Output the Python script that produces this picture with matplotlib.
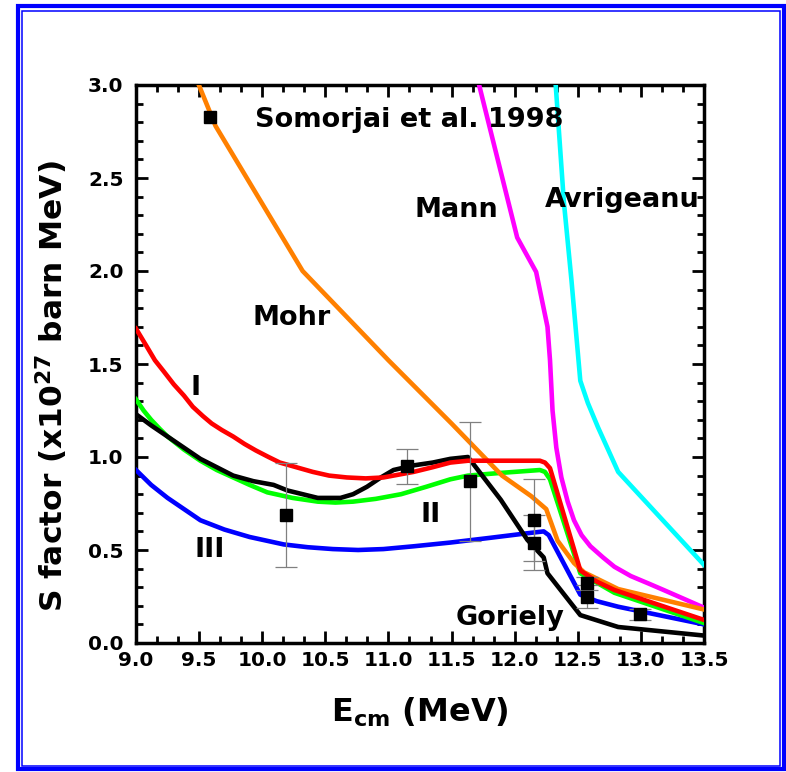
import numpy as np
import matplotlib
matplotlib.use("Agg")
import matplotlib.pyplot as plt
from matplotlib.patches import Rectangle
from matplotlib.ticker import MultipleLocator, AutoMinorLocator

plt.rcParams["font.family"] = "DejaVu Sans"
plt.rcParams["font.weight"] = "bold"
plt.rcParams["mathtext.fontset"] = "dejavusans"

# model curves, E_cm (MeV) vs S factor (1e27 barn MeV)
mohr_e = [9.48, 9.63, 10.32, 11.0, 11.5, 11.9, 12.13, 12.25, 12.34, 12.47, 12.55, 12.82, 13.5]
mohr_s = [3.03, 2.78, 2.0, 1.52, 1.18, 0.9, 0.79, 0.72, 0.55, 0.43, 0.38, 0.29, 0.18]

mann_e = [11.70, 12.02, 12.17, 12.26, 12.28, 12.30, 12.33, 12.37, 12.42, 12.47, 12.53, 12.60,
          12.70, 12.79, 12.92, 13.06, 13.18, 13.5]
mann_s = [3.05, 2.18, 1.995, 1.70, 1.52, 1.25, 1.05, 0.89, 0.76, 0.66, 0.58, 0.52,
          0.46, 0.41, 0.36, 0.32, 0.285, 0.19]

avr_e = [12.32, 12.39, 12.45, 12.52, 12.58, 12.66, 12.74, 12.82, 13.5]
avr_s = [3.05, 2.37, 1.95, 1.41, 1.29, 1.16, 1.04, 0.92, 0.42]

red_e = [9.0, 9.08, 9.15, 9.22, 9.3, 9.38, 9.45, 9.53, 9.6, 9.68, 9.77, 9.86, 9.95, 10.05,
         10.14, 10.27, 10.4, 10.53, 10.67, 10.82, 10.96, 11.08, 11.2, 11.35, 11.49, 11.63,
         12.2, 12.24, 12.28, 12.52, 12.65, 12.79, 13.5]
red_s = [1.69, 1.60, 1.52, 1.46, 1.39, 1.33, 1.27, 1.22, 1.18, 1.145, 1.11, 1.07, 1.035, 1.0,
         0.97, 0.945, 0.92, 0.90, 0.89, 0.885, 0.89, 0.905, 0.92, 0.945, 0.97, 0.98,
         0.98, 0.97, 0.94, 0.39, 0.33, 0.285, 0.124]

green_e = [9.0, 9.06, 9.12, 9.19, 9.25, 9.38, 9.51, 9.64, 9.77, 9.9, 10.04, 10.24, 10.44,
           10.58, 10.72, 10.9, 11.1, 11.3, 11.49, 11.63, 11.9, 12.2, 12.24, 12.28, 12.52,
           12.79, 13.5]
green_s = [1.31, 1.25, 1.20, 1.15, 1.11, 1.04, 0.98, 0.93, 0.89, 0.85, 0.81, 0.78, 0.76,
           0.755, 0.76, 0.775, 0.80, 0.84, 0.88, 0.90, 0.915, 0.93, 0.92, 0.88, 0.375,
           0.27, 0.107]

blue_e = [9.0, 9.12, 9.25, 9.38, 9.51, 9.7, 9.9, 10.17, 10.36, 10.56, 10.76, 10.96, 11.2,
          11.49, 11.8, 12.1, 12.23, 12.27, 12.52, 12.65, 12.82, 13.5]
blue_s = [0.93, 0.85, 0.78, 0.72, 0.66, 0.61, 0.57, 0.53, 0.515, 0.505, 0.50, 0.505, 0.52,
          0.54, 0.565, 0.59, 0.60, 0.58, 0.26, 0.225, 0.195, 0.10]

gor_e = [9.0, 9.12, 9.25, 9.38, 9.51, 9.64, 9.77, 9.93, 10.09, 10.2, 10.32, 10.44, 10.62,
         10.72, 10.83, 10.94, 11.04, 11.2, 11.35, 11.49, 11.63, 11.89, 12.10, 12.23, 12.26,
         12.52, 12.82, 13.5]
gor_s = [1.23, 1.17, 1.11, 1.05, 0.99, 0.945, 0.90, 0.87, 0.85, 0.82, 0.80, 0.78, 0.78,
         0.80, 0.84, 0.89, 0.93, 0.955, 0.97, 0.99, 1.0, 0.77, 0.555, 0.46, 0.375,
         0.15, 0.086, 0.04]

# Somorjai et al. 1998 data
exp_e = [9.59, 10.19, 11.15, 11.65, 12.15, 12.15, 12.57, 12.57, 12.99]
exp_s = [2.83, 0.69, 0.95, 0.87, 0.66, 0.54, 0.32, 0.25, 0.155]
exp_err = [0.0, 0.28, 0.095, 0.32, 0.22, 0.15, 0.035, 0.06, 0.03]

fig = plt.figure(figsize=(7.86, 7.72), dpi=100)
ax = fig.add_axes([136 / 786, 1 - 643 / 772, 568 / 786, 558 / 772])

lw = 3.3
ax.plot(mann_e, mann_s, color="#FF00FF", lw=lw, zorder=3)
ax.plot(avr_e, avr_s, color="#00FFFF", lw=lw, zorder=3)
ax.plot(blue_e, blue_s, color="#0000FF", lw=lw, zorder=3)
ax.plot(green_e, green_s, color="#00FF00", lw=lw, zorder=4)
ax.plot(gor_e, gor_s, color="black", lw=lw, zorder=4)
ax.plot(mohr_e, mohr_s, color="#FF8000", lw=lw, zorder=5)
ax.plot(red_e, red_s, color="#FF0000", lw=lw, zorder=5)

# only points with a quoted uncertainty get error bars
has_err = [i for i, e in enumerate(exp_err) if e > 0]
ax.errorbar([exp_e[i] for i in has_err], [exp_s[i] for i in has_err],
            yerr=[exp_err[i] for i in has_err], fmt="none", ecolor="#808080",
            elinewidth=0.9, capsize=7.8, capthick=0.9, zorder=6)
ax.plot(exp_e, exp_s, "s", color="black", ms=8.5, zorder=7)

ax.set_xlim(9.0, 13.5)
ax.set_ylim(0.0, 3.0)
ax.xaxis.set_major_locator(MultipleLocator(0.5))
ax.xaxis.set_minor_locator(AutoMinorLocator(3))
ax.yaxis.set_major_locator(MultipleLocator(0.5))
ax.yaxis.set_minor_locator(AutoMinorLocator(5))
ax.xaxis.set_major_formatter(plt.FormatStrFormatter("%.1f"))
ax.yaxis.set_major_formatter(plt.FormatStrFormatter("%.1f"))

for sp in ax.spines.values():
    sp.set_linewidth(2.5)
ax.tick_params(which="both", direction="in", top=True, right=True, width=2.0)
ax.tick_params(which="major", length=8.3, labelsize=14.5)
ax.tick_params(which="minor", length=4.7)
ax.tick_params(axis="x", which="major", pad=6)
ax.tick_params(axis="y", which="major", pad=9)

ax.set_xlabel(r"$\mathbf{E}_{\mathbf{cm}}$ (MeV)", fontsize=23, fontweight="bold")
ax.xaxis.set_label_coords(0.5, -0.095)
ax.set_ylabel(r"S factor (x10$^{\mathbf{27}}$ barn MeV)", fontsize=22.5, fontweight="bold")
ax.yaxis.label.set_va("center")
ax.yaxis.set_label_coords(-0.149, 0.46)

# curve labels
txt = dict(fontsize=19.5, fontweight="bold", va="baseline")
ax.text(9.944, 2.774, "Somorjai et al. 1998", ha="left", **txt)
ax.text(10.23, 1.71, "Mohr", ha="center", **txt)
ax.text(11.54, 2.29, "Mann", ha="center", **txt)
ax.text(12.85, 2.344, "Avrigeanu", ha="center", **txt)
ax.text(9.468, 1.333, "I", ha="center", **txt)
ax.text(11.333, 0.65, "II", ha="center", **txt)
ax.text(9.587, 0.462, "III", ha="center", **txt)
ax.text(11.96, 0.097, "Goriely", ha="center", **txt)

# double blue frame around the figure
W, H = 786, 772
def frame(l, t, r, b, width):
    fig.add_artist(Rectangle((l / W, 1 - b / H), (r - l) / W, (b - t) / H,
                             transform=fig.transFigure, fill=False,
                             edgecolor="#0000FF", lw=width))

frame(17.5, 5.8, 784, 769.2, 3.0)
frame(21.8, 10.8, 780, 766, 1.1)

fig.savefig("out.png", dpi=100, facecolor="white")
